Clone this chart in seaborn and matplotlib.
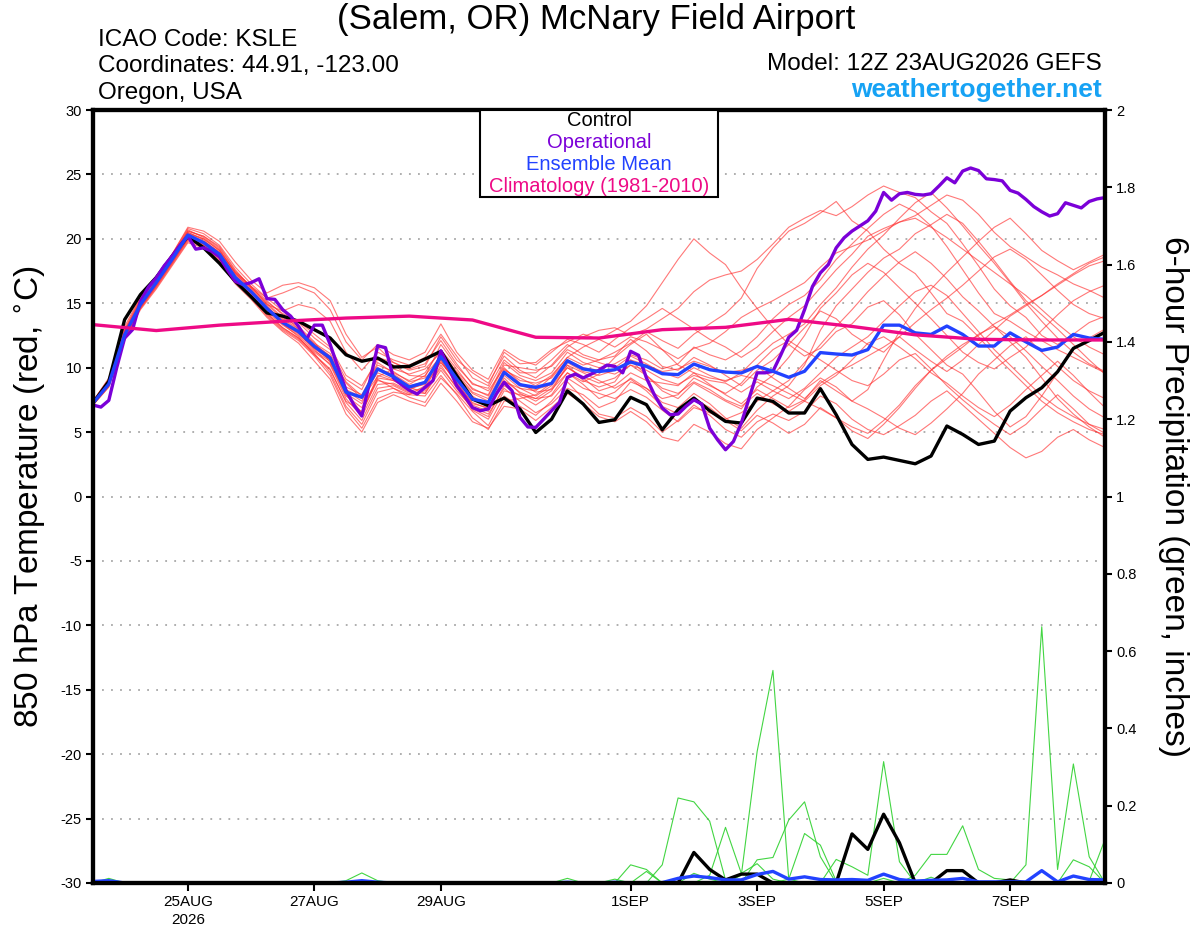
import numpy as np
import pandas as pd
import seaborn as sns
import matplotlib.pyplot as plt
from matplotlib.patches import Rectangle

sns.set_theme(style="ticks")
plt.rcParams["font.family"] = ["Liberation Sans", "DejaVu Sans"]
plt.rcParams["text.color"] = "black"
plt.rcParams["axes.labelcolor"] = "black"
plt.rcParams["xtick.color"] = "black"
plt.rcParams["ytick.color"] = "black"
plt.rcParams["axes.unicode_minus"] = False

"""
GEFS meteogram for KSLE, run 12Z 23AUG2026 (384 h)
"""
# Time axes: ensemble every 6 h, operational every 3 h, climatology daily
times = pd.date_range("2026-08-23 12:00", periods=65, freq="6h")
times_oper = pd.date_range("2026-08-23 12:00", periods=129, freq="3h")
times_clim = pd.date_range("2026-08-23 12:00", periods=17, freq="D")

# 850 hPa temperature (C)
control_t = [7.25, 8.94, 13.73, 15.67, 17.0, 18.65, 20.2, 19.3, 18.1, 16.7,
             15.5, 14.25, 14.0, 13.6, 12.95, 12.3, 11.0, 10.5, 10.75, 10.05,
             10.1, 10.67, 11.27, 9.38, 7.56, 7.05, 7.64, 6.79, 4.97, 6.0,
             8.2, 7.18, 5.75, 5.96, 7.7, 7.13, 5.18, 6.74, 7.64, 6.66,
             5.83, 5.7, 7.64, 7.38, 6.48, 6.48, 8.37, 6.35, 4.04, 2.88,
             3.06, 2.8, 2.54, 3.14, 5.47, 4.82, 4.04, 4.3, 6.63, 7.67,
             8.44, 9.68, 11.5, 12.1, 12.76]
mean_t = [7.25, 8.73, 12.56, 14.9, 16.6, 18.4, 20.3, 19.7, 18.8, 17.0,
          15.9, 14.6, 13.5, 12.8, 11.65, 10.75, 8.1, 7.7, 9.9, 9.3,
          8.5, 8.86, 10.85, 9.12, 7.56, 7.3, 9.64, 8.68, 8.47, 8.78,
          10.54, 9.9, 9.7, 9.84, 10.44, 10.1, 9.53, 9.46, 10.28, 9.84,
          9.66, 9.59, 10.1, 9.72, 9.25, 9.72, 11.17, 11.06, 10.98, 11.4,
          13.3, 13.3, 12.7, 12.58, 13.23, 12.58, 11.68, 11.68, 12.7, 12.0,
          11.34, 11.6, 12.58, 12.3, 12.2]
oper_t = [7.1, 6.94, 7.46, 10.0, 12.3, 12.95, 15.15, 16.24, 16.97, 17.9,
          18.65, 19.5, 20.2, 19.2, 19.3, 19.04, 18.6, 17.6, 16.7, 16.45,
          16.6, 16.9, 15.36, 15.3, 14.5, 14.0, 13.2, 12.2, 13.3, 13.3,
          11.8, 10.0, 8.25, 7.1, 6.25, 8.9, 11.7, 11.55, 9.2, 8.7,
          8.25, 7.95, 8.47, 9.0, 11.3, 10.0, 8.6, 7.8, 6.9, 6.66,
          6.8, 7.95, 8.86, 8.2, 6.14, 5.4, 5.36, 6.0, 6.66, 7.3,
          9.25, 9.5, 9.2, 9.5, 9.8, 10.2, 10.1, 9.6, 11.27, 10.96,
          9.2, 7.9, 6.87, 6.35, 6.4, 7.0, 7.5, 7.18, 5.3, 4.4,
          3.63, 4.27, 5.7, 7.64, 9.6, 9.6, 9.72, 11.0, 12.36, 12.9,
          14.5, 16.3, 17.36, 18.0, 19.3, 20.08, 20.6, 21.0, 21.4, 22.15,
          23.6, 23.0, 23.5, 23.6, 23.45, 23.4, 23.5, 24.1, 24.74, 24.35,
          25.26, 25.5, 25.3, 24.66, 24.6, 24.5, 23.76, 23.55, 23.06, 22.5,
          22.1, 21.77, 21.95, 22.8, 22.6, 22.4, 22.9, 23.1, 23.2]
clim_t = [13.34, 12.88, 13.3, 13.6, 13.85, 14.0, 13.7, 12.36, 12.3, 12.95,
          13.13, 13.75, 13.2, 12.55, 12.2, 12.15, 12.15]

member_t = [
    [7.3, 8.9, 12.8, 15.2, 16.9, 18.6, 20.6, 20.2, 19.4, 17.6,
     16.2, 15.0, 13.9, 13.2, 12.0, 10.4, 8.0, 6.5, 9.4, 9.0,
     8.3, 8.8, 11.0, 9.4, 8.0, 7.4, 9.8, 9.2, 8.6, 9.4,
     10.8, 11.6, 12.2, 12.9, 13.6, 14.8, 16.6, 18.4, 20.0, 18.9,
     18.0, 16.2, 14.6, 13.1, 11.8, 10.9, 11.5, 12.8, 13.4, 14.7,
     15.2, 14.1, 12.6, 11.4, 10.2, 9.5, 8.1, 6.6, 5.4, 6.2,
     7.8, 9.6, 11.4, 12.3, 13.0],
    [7.2, 8.6, 12.4, 14.7, 16.4, 18.3, 20.1, 19.8, 19.0, 17.4,
     16.3, 15.2, 14.1, 13.0, 11.8, 10.9, 8.5, 7.9, 10.2, 9.7,
     8.9, 9.2, 10.4, 9.0, 7.8, 7.0, 8.9, 8.4, 8.2, 9.3,
     10.8, 10.2, 10.6, 11.2, 11.9, 12.8, 12.1, 11.5, 12.6, 13.4,
     14.2, 15.4, 17.7, 19.3, 20.6, 21.2, 22.0, 22.9, 21.4, 20.6,
     19.2, 18.1, 17.3, 15.8, 14.2, 13.6, 12.4, 11.0, 9.8, 8.6,
     7.4, 6.5, 5.8, 5.2, 4.8],
    [7.4, 9.2, 13.2, 15.5, 17.1, 18.8, 20.9, 20.6, 19.8, 18.2,
     16.8, 15.8, 16.4, 16.6, 16.2, 15.2, 12.6, 10.8, 11.6, 10.4,
     9.8, 10.1, 12.4, 10.6, 9.6, 8.8, 10.9, 9.8, 9.2, 10.2,
     11.6, 12.4, 12.9, 13.1, 12.5, 13.0, 13.8, 14.6, 15.9, 16.8,
     17.2, 17.5, 18.4, 19.6, 20.9, 21.6, 22.2, 21.8, 22.5, 23.4,
     24.1, 23.6, 23.2, 22.1, 21.2, 19.6, 17.9, 16.1, 14.8, 13.9,
     12.5, 11.8, 12.6, 13.5, 14.0],
    [7.1, 8.5, 12.2, 14.6, 16.2, 18.0, 19.8, 19.4, 18.3, 16.7,
     15.6, 14.2, 13.1, 12.3, 11.1, 9.6, 7.0, 5.6, 8.1, 8.4,
     7.7, 7.3, 9.2, 8.0, 6.6, 5.5, 7.8, 7.0, 6.3, 7.4,
     8.9, 7.6, 6.4, 6.1, 6.9, 6.2, 5.0, 5.9, 7.1, 6.3,
     5.2, 4.6, 5.8, 6.4, 5.9, 6.6, 7.8, 7.2, 6.0, 5.2,
     4.8, 5.5, 6.3, 7.4, 8.2, 7.1, 6.0, 4.9, 3.8, 3.0,
     3.5, 4.6, 5.2, 4.4, 3.8],
    [7.3, 8.8, 12.6, 15.0, 16.7, 18.5, 20.5, 19.9, 18.9, 17.1,
     16.0, 14.8, 13.5, 12.7, 11.4, 10.2, 7.6, 6.2, 8.7, 8.8,
     8.2, 8.4, 10.6, 8.7, 7.1, 6.6, 9.2, 8.0, 7.4, 8.2,
     10.2, 9.0, 8.5, 8.9, 10.6, 9.4, 8.2, 7.6, 8.8, 8.1,
     7.4, 6.8, 8.5, 9.4, 10.8, 12.5, 14.6, 15.8, 17.2, 18.1,
     17.4, 16.2, 15.0, 13.8, 12.5, 11.2, 10.4, 9.9, 10.8, 11.6,
     12.9, 14.1, 15.2, 15.9, 16.4],
    [7.2, 8.7, 12.5, 14.8, 16.5, 18.2, 20.0, 19.6, 18.6, 16.9,
     15.7, 14.3, 13.3, 12.5, 11.3, 10.5, 8.3, 7.7, 10.4, 9.6,
     9.0, 9.6, 11.4, 9.9, 8.3, 7.9, 10.4, 9.4, 9.0, 9.6,
     11.2, 10.4, 10.0, 10.3, 11.0, 10.6, 9.9, 10.3, 11.6, 11.0,
     10.6, 11.3, 12.4, 13.8, 14.9, 15.6, 16.8, 18.4, 19.6, 20.8,
     21.9, 22.7, 22.1, 21.0, 19.4, 17.6, 15.8, 14.2, 13.6, 12.8,
     12.1, 11.4, 10.8, 10.2, 9.6],
    [7.4, 9.0, 12.9, 15.3, 17.0, 18.7, 20.7, 20.1, 19.2, 17.3,
     16.2, 15.1, 14.2, 13.6, 12.6, 11.6, 9.4, 8.6, 10.6, 10.2,
     9.4, 9.3, 11.8, 10.1, 8.8, 8.2, 10.0, 8.8, 8.1, 8.3,
     9.6, 8.7, 7.6, 8.1, 9.2, 8.4, 7.3, 6.9, 8.0, 7.2,
     6.1, 5.3, 6.7, 7.8, 8.6, 10.2, 12.9, 14.8, 16.1, 17.4,
     18.5, 19.2, 20.4, 21.1, 21.9, 21.2, 19.8, 18.3, 16.7, 15.2,
     14.1, 13.0, 11.8, 10.6, 9.5],
    [7.1, 8.6, 12.3, 14.6, 16.3, 18.1, 19.9, 19.5, 18.5, 16.8,
     15.4, 14.0, 12.9, 12.1, 10.9, 9.4, 6.8, 5.3, 7.6, 8.1,
     7.9, 7.8, 9.4, 7.9, 6.1, 5.2, 7.4, 7.6, 7.9, 8.8,
     10.2, 9.6, 9.0, 8.4, 9.1, 8.2, 7.0, 6.4, 7.6, 6.9,
     5.9, 5.1, 6.3, 5.7, 4.9, 5.6, 6.9, 6.1, 5.1, 4.5,
     5.6, 6.9, 8.4, 9.8, 10.9, 11.8, 12.5, 13.4, 14.1, 14.9,
     15.6, 16.4, 17.2, 17.9, 18.3],
    [7.3, 8.8, 12.7, 15.1, 16.8, 18.5, 20.4, 20.0, 19.1, 17.3,
     16.1, 14.7, 13.7, 12.9, 11.8, 10.9, 8.9, 7.8, 9.6, 9.1,
     8.5, 8.0, 10.2, 8.4, 6.8, 6.2, 8.6, 7.8, 7.1, 7.9,
     9.6, 8.9, 9.5, 10.8, 11.8, 12.6, 11.4, 10.2, 9.6, 8.7,
     7.9, 7.2, 8.3, 7.6, 6.9, 7.5, 9.0, 8.2, 7.4, 8.3,
     10.6, 12.8, 14.6, 16.1, 17.4, 18.6, 19.8, 20.9, 21.6, 20.4,
     19.1, 18.3, 17.6, 18.2, 18.8],
    [7.2, 8.7, 12.5, 14.9, 16.6, 18.4, 20.2, 19.7, 18.8, 17.0,
     15.9, 14.5, 13.4, 12.6, 11.5, 10.6, 8.0, 7.2, 9.8, 9.5,
     8.7, 9.4, 10.9, 9.6, 8.1, 7.6, 9.9, 9.0, 8.8, 9.2,
     10.6, 10.0, 9.8, 9.5, 10.2, 9.8, 9.1, 8.7, 9.4, 9.0,
     8.8, 8.1, 8.9, 8.2, 7.6, 8.4, 9.6, 10.8, 11.6, 12.4,
     13.6, 14.8, 15.9, 16.4, 15.6, 14.2, 12.8, 11.4, 10.2, 9.0,
     7.8, 6.9, 6.2, 5.6, 5.2],
    [7.3, 8.9, 12.7, 15.0, 16.7, 18.5, 20.4, 19.8, 18.9, 17.2,
     16.0, 14.9, 14.4, 14.9, 14.6, 13.6, 11.2, 9.8, 11.2, 10.6,
     10.2, 10.8, 12.6, 10.9, 9.2, 8.6, 11.2, 10.3, 10.4, 11.4,
     12.0, 12.6, 12.2, 11.6, 12.4, 12.0, 11.4, 10.7, 11.5, 11.9,
     12.8, 13.9, 14.6, 15.2, 15.9, 16.6, 17.8, 18.9, 19.4, 19.9,
     20.6, 21.3, 21.8, 22.6, 23.4, 23.0, 21.9, 20.5, 19.4, 18.6,
     17.8, 17.2, 16.5, 16.0, 15.4],
    [7.2, 8.6, 12.4, 14.8, 16.5, 18.3, 20.1, 19.6, 18.7, 16.9,
     15.8, 14.5, 13.4, 12.4, 11.0, 9.8, 7.4, 6.6, 9.0, 8.7,
     8.1, 8.0, 9.8, 8.2, 6.9, 6.4, 8.4, 7.4, 6.5, 7.2,
     8.4, 7.9, 6.9, 7.4, 8.9, 8.4, 7.6, 7.9, 9.2, 8.6,
     8.0, 8.8, 10.2, 11.4, 12.1, 11.3, 10.6, 9.8, 9.0, 8.6,
     9.5, 10.6, 11.1, 9.9, 8.6, 7.5, 6.5, 5.6, 4.8, 5.6,
     6.8, 7.9, 6.8, 5.6, 4.9],
    [7.4, 9.1, 13.0, 15.4, 17.0, 18.8, 20.8, 20.4, 19.5, 17.8,
     16.5, 15.4, 14.4, 13.5, 12.3, 11.4, 9.1, 8.3, 10.8, 10.4,
     9.9, 10.3, 12.1, 10.3, 8.7, 8.4, 10.6, 9.6, 9.6, 10.6,
     11.8, 11.0, 10.6, 10.9, 12.2, 11.3, 10.1, 9.8, 10.8, 10.2,
     9.4, 8.6, 9.8, 10.6, 11.8, 13.1, 14.4, 13.8, 12.6, 11.8,
     11.2, 12.4, 13.5, 14.5, 15.4, 16.4, 17.5, 18.6, 19.2, 18.4,
     17.2, 16.0, 14.9, 14.2, 13.8],
    [7.1, 8.5, 12.1, 14.5, 16.1, 17.9, 19.7, 19.3, 18.2, 16.5,
     15.3, 13.9, 12.8, 11.9, 10.5, 9.1, 6.4, 5.0, 7.3, 7.9,
     7.4, 7.0, 8.8, 7.4, 5.8, 5.3, 7.0, 6.8, 5.9, 6.9,
     8.0, 7.2, 6.2, 5.8, 6.6, 5.8, 4.6, 4.3, 5.6, 5.0,
     4.1, 3.7, 5.2, 6.1, 7.0, 8.3, 9.2, 8.5, 7.4, 6.8,
     6.1, 5.3, 4.8, 5.7, 6.8, 8.0, 9.5, 10.6, 11.7, 12.4,
     11.2, 10.1, 9.0, 8.2, 7.6],
    [7.3, 8.8, 12.6, 15.0, 16.8, 18.6, 20.5, 20.0, 19.1, 17.4,
     16.3, 15.4, 15.8, 16.3, 15.8, 14.5, 12.0, 10.6, 11.8, 11.0,
     10.6, 11.2, 13.4, 11.2, 9.8, 9.1, 11.4, 10.6, 10.2, 11.2,
     12.2, 11.8, 11.2, 12.2, 13.1, 13.8, 14.6, 13.8, 13.0, 12.2,
     11.6, 10.8, 11.6, 12.8, 13.9, 14.8, 16.2, 17.6, 18.8, 20.2,
     20.8, 21.3, 21.6, 20.9, 20.1, 19.2, 18.3, 17.4, 16.5, 15.6,
     14.5, 13.4, 12.4, 11.6, 11.0],
    [7.2, 8.7, 12.4, 14.7, 16.4, 18.2, 20.0, 19.5, 18.6, 16.8,
     15.6, 14.2, 13.1, 12.3, 11.2, 10.3, 7.8, 6.9, 9.1, 8.4,
     7.9, 8.6, 10.4, 8.9, 7.2, 6.9, 9.0, 8.1, 7.6, 8.4,
     10.0, 9.3, 8.8, 9.2, 10.2, 9.4, 8.4, 8.0, 8.9, 8.3,
     7.5, 7.0, 8.0, 7.2, 6.6, 7.4, 8.6, 9.4, 10.6, 11.9,
     12.4, 11.6, 10.7, 9.6, 8.8, 7.8, 6.9, 6.2, 7.1, 8.3,
     9.4, 10.5, 9.4, 8.1, 6.9],
    [7.4, 9.0, 12.8, 15.2, 16.9, 18.7, 20.6, 20.2, 19.3, 17.5,
     16.3, 14.9, 13.8, 13.0, 11.9, 11.1, 8.8, 7.6, 9.3, 9.9,
     9.5, 9.9, 11.2, 9.7, 8.4, 7.8, 10.2, 10.0, 9.8, 10.1,
     11.4, 10.8, 10.4, 10.0, 10.9, 10.3, 9.6, 9.2, 10.0, 9.4,
     8.9, 9.6, 10.8, 11.9, 12.6, 13.4, 14.9, 16.2, 17.8, 19.2,
     20.3, 21.6, 22.8, 23.6, 22.4, 21.0, 19.5, 18.1, 16.6, 15.0,
     13.6, 12.3, 11.2, 10.3, 9.7],
    [7.2, 8.6, 12.3, 14.7, 16.3, 18.1, 20.0, 19.4, 18.4, 16.7,
     15.5, 14.1, 13.0, 12.2, 11.0, 9.9, 7.3, 5.9, 8.4, 8.6,
     8.0, 8.2, 10.0, 8.5, 6.7, 6.0, 8.2, 7.9, 7.6, 7.8,
     9.2, 8.4, 8.0, 7.6, 8.3, 7.7, 6.7, 5.8, 6.9, 6.5,
     6.0, 6.5, 7.4, 8.2, 9.0, 10.4, 11.8, 13.2, 14.5, 15.9,
     17.1, 18.2, 19.0, 18.1, 16.9, 15.5, 14.4, 13.2, 12.0, 10.8,
     9.2, 7.6, 6.4, 5.4, 4.6],
    [7.3, 8.8, 12.6, 14.9, 16.6, 18.4, 20.3, 19.7, 18.8, 17.0,
     15.8, 14.6, 13.5, 12.8, 11.7, 10.7, 8.2, 7.4, 10.0, 9.4,
     8.6, 8.9, 11.1, 9.2, 7.6, 7.2, 9.6, 8.6, 8.3, 8.7,
     10.4, 9.7, 9.4, 9.8, 10.6, 10.2, 9.7, 9.9, 10.5, 10.1,
     9.6, 9.8, 10.1, 9.2, 8.4, 7.6, 8.8, 9.6, 10.2, 10.9,
     11.6, 12.4, 11.4, 10.5, 9.7, 10.6, 11.8, 12.9, 14.0, 14.8,
     15.6, 16.5, 17.3, 18.1, 18.6],
    [7.2, 8.7, 12.5, 14.9, 16.5, 18.3, 20.2, 19.7, 18.7, 16.9,
     15.8, 14.5, 13.4, 12.7, 11.5, 10.6, 7.9, 6.4, 9.2, 9.0,
     8.4, 8.7, 10.6, 8.8, 7.3, 6.8, 9.4, 8.4, 7.8, 8.6,
     10.0, 9.2, 8.2, 8.6, 9.6, 9.0, 8.8, 8.6, 9.6, 9.2,
     9.0, 9.4, 9.1, 8.6, 8.0, 7.4, 6.8, 6.1, 5.4, 4.9,
     5.9, 7.1, 8.6, 9.8, 10.7, 11.6, 12.6, 13.2, 12.4, 11.3,
     10.1, 9.0, 7.8, 6.8, 6.1],
]

# 6-hour precipitation (inches)
control_p = [0, 0, 0, 0, 0, 0, 0, 0, 0, 0,
             0, 0, 0, 0, 0, 0, 0, 0, 0, 0,
             0, 0, 0, 0, 0, 0, 0, 0, 0, 0,
             0, 0, 0, 0, 0, 0, 0, 0, 0.079, 0.035,
             0.008, 0.023, 0.023, 0, 0, 0, 0, 0, 0.127, 0.087,
             0.178, 0.104, 0, 0, 0.032, 0.032, 0, 0, 0.008, 0,
             0, 0, 0, 0, 0]
mean_p = [0.004, 0.006, 0, 0, 0, 0, 0, 0, 0, 0,
          0, 0, 0, 0, 0, 0, 0.002, 0.006, 0.002, 0,
          0, 0, 0, 0, 0, 0, 0, 0, 0, 0,
          0.002, 0, 0, 0.002, 0, 0.001, 0.001, 0.012, 0.018, 0.014,
          0.008, 0.008, 0.022, 0.03, 0.01, 0.016, 0.009, 0.008, 0.009, 0.007,
          0.023, 0.009, 0.005, 0.007, 0.008, 0.012, 0.003, 0.003, 0.003, 0.003,
          0.032, 0.003, 0.018, 0.009, 0.008]
member_p = [
    [0, 0, 0, 0, 0, 0, 0, 0, 0, 0,
     0, 0, 0, 0, 0, 0, 0, 0, 0, 0,
     0, 0, 0, 0, 0, 0, 0, 0, 0, 0,
     0, 0, 0, 0, 0, 0, 0, 0, 0, 0,
     0, 0.02, 0.34, 0.55, 0.01, 0, 0, 0, 0, 0,
     0, 0, 0, 0, 0, 0, 0, 0, 0, 0,
     0, 0, 0, 0, 0],
    [0, 0.012, 0, 0, 0, 0, 0, 0, 0, 0,
     0, 0, 0, 0, 0, 0, 0, 0, 0, 0,
     0, 0, 0, 0, 0, 0, 0, 0, 0, 0,
     0, 0, 0, 0, 0.047, 0.035, 0, 0, 0, 0,
     0, 0, 0, 0, 0, 0, 0, 0, 0, 0,
     0, 0, 0, 0, 0, 0, 0, 0, 0, 0,
     0, 0, 0, 0, 0],
    [0, 0, 0, 0, 0, 0, 0, 0, 0, 0,
     0, 0, 0, 0, 0, 0, 0, 0, 0, 0,
     0, 0, 0, 0, 0, 0, 0, 0, 0, 0,
     0, 0, 0, 0, 0, 0, 0.047, 0.22, 0.21, 0.16,
     0.008, 0, 0, 0, 0, 0, 0, 0, 0, 0,
     0, 0, 0, 0, 0, 0, 0, 0, 0, 0,
     0, 0, 0, 0, 0],
    [0, 0, 0, 0, 0, 0, 0, 0, 0, 0,
     0, 0, 0, 0, 0, 0, 0.006, 0.026, 0.006, 0,
     0, 0, 0, 0, 0, 0, 0, 0, 0, 0,
     0, 0, 0, 0, 0, 0.03, 0, 0, 0, 0.02,
     0.144, 0.025, 0.05, 0.01, 0, 0, 0, 0, 0, 0,
     0, 0, 0, 0, 0, 0, 0, 0, 0, 0,
     0, 0, 0, 0, 0],
    [0, 0, 0, 0, 0, 0, 0, 0, 0, 0,
     0, 0, 0, 0, 0, 0, 0, 0, 0, 0,
     0, 0, 0, 0, 0, 0, 0, 0, 0, 0,
     0, 0, 0, 0, 0, 0, 0, 0, 0, 0,
     0, 0, 0.06, 0.066, 0.163, 0.21, 0.068, 0, 0, 0,
     0, 0, 0, 0, 0, 0, 0, 0, 0, 0,
     0, 0, 0, 0, 0],
    [0, 0, 0, 0, 0, 0, 0, 0, 0, 0,
     0, 0, 0, 0, 0, 0, 0, 0, 0, 0,
     0, 0, 0, 0, 0, 0, 0, 0, 0, 0,
     0.012, 0, 0, 0.01, 0, 0, 0, 0, 0, 0,
     0, 0, 0, 0, 0.01, 0.128, 0.098, 0.005, 0, 0,
     0, 0, 0, 0, 0, 0, 0, 0, 0, 0,
     0, 0, 0, 0, 0],
    [0, 0, 0, 0, 0, 0, 0, 0, 0, 0,
     0, 0, 0, 0, 0, 0, 0, 0, 0, 0,
     0, 0, 0, 0, 0, 0, 0, 0, 0, 0,
     0, 0, 0, 0, 0, 0, 0, 0, 0, 0,
     0, 0, 0, 0, 0, 0, 0, 0.061, 0.042, 0.02,
     0.314, 0.055, 0, 0, 0, 0, 0, 0, 0, 0,
     0, 0, 0, 0, 0],
    [0, 0, 0, 0, 0, 0, 0, 0, 0, 0,
     0, 0, 0, 0, 0, 0, 0, 0, 0, 0,
     0, 0, 0, 0, 0, 0, 0, 0, 0, 0,
     0, 0, 0, 0, 0, 0, 0, 0, 0, 0,
     0, 0, 0, 0, 0, 0, 0, 0, 0, 0,
     0, 0, 0.02, 0.074, 0.074, 0.148, 0.035, 0.012, 0.008, 0,
     0, 0, 0, 0, 0],
    [0, 0, 0, 0, 0, 0, 0, 0, 0, 0,
     0, 0, 0, 0, 0, 0, 0, 0, 0, 0,
     0, 0, 0, 0, 0, 0, 0, 0, 0, 0,
     0, 0, 0, 0, 0, 0, 0, 0, 0, 0,
     0, 0, 0, 0, 0, 0, 0, 0, 0, 0,
     0, 0, 0, 0, 0, 0, 0, 0, 0, 0.047,
     0.663, 0.035, 0.308, 0.068, 0],
    [0, 0, 0, 0, 0, 0, 0, 0, 0, 0,
     0, 0, 0, 0, 0, 0, 0, 0, 0, 0,
     0, 0, 0, 0, 0, 0, 0, 0, 0, 0,
     0, 0, 0, 0, 0, 0, 0, 0, 0, 0,
     0, 0, 0, 0, 0, 0, 0, 0, 0, 0,
     0, 0, 0, 0, 0, 0, 0, 0, 0, 0,
     0, 0, 0, 0.005, 0.113],
    [0, 0, 0, 0, 0, 0, 0, 0, 0, 0,
     0, 0, 0, 0, 0, 0, 0, 0, 0, 0,
     0, 0, 0, 0, 0, 0, 0, 0, 0, 0,
     0, 0, 0, 0, 0, 0, 0, 0, 0.025, 0.01,
     0, 0, 0, 0, 0, 0, 0, 0, 0, 0,
     0.012, 0, 0, 0.015, 0, 0, 0, 0, 0, 0,
     0, 0, 0.06, 0.042, 0],
]

tick_days = ["2026-08-25", "2026-08-27", "2026-08-29", "2026-09-01",
             "2026-09-03", "2026-09-05", "2026-09-07"]
tick_labels = ["25AUG\n2026", "27AUG", "29AUG", "1SEP", "3SEP", "5SEP", "7SEP"]

# Long tables for the ensemble members
df_mem_t = pd.DataFrame({"time": np.tile(times, len(member_t)),
                         "temp": np.concatenate(member_t),
                         "member": np.repeat(np.arange(len(member_t)), len(times))})
df_mem_p = pd.DataFrame({"time": np.tile(times, len(member_p)),
                         "precip": np.concatenate(member_p),
                         "member": np.repeat(np.arange(len(member_p)), len(times))})

# Create the plot
fig = plt.figure(figsize=(12, 9.27), dpi=100)
ax = fig.add_axes([93 / 1200, 44 / 927, 1012 / 1200, 773 / 927])
ax2 = ax.twinx()

sns.lineplot(data=df_mem_t, x="time", y="temp", units="member", estimator=None,
             color="#ff3030", lw=0.8, alpha=0.65, ax=ax)
sns.lineplot(x=times, y=control_t, color="black", lw=2.4, ax=ax)
sns.lineplot(x=times_oper, y=oper_t, color="#7b00d8", lw=2.4, ax=ax)
sns.lineplot(x=times, y=mean_t, color="#2242ff", lw=2.4, ax=ax)
sns.lineplot(x=times_clim, y=clim_t, color="#ee0a86", lw=2.4, ax=ax)

sns.lineplot(data=df_mem_p, x="time", y="precip", units="member", estimator=None,
             color="#2ed12e", lw=0.8, alpha=0.9, ax=ax2)
sns.lineplot(x=times, y=control_p, color="black", lw=2.4, ax=ax2)
sns.lineplot(x=times, y=mean_p, color="#2242ff", lw=2.4, ax=ax2)

ax.set_xlim(times[0], times[-1])
ax.set_ylim(-30, 30)
ax2.set_ylim(0, 2)

ax.set_yticks(range(-30, 31, 5))
ax.set_xticks(pd.to_datetime(tick_days))
ax.set_xticklabels(tick_labels, fontsize=11, linespacing=1.3)
ax2.set_yticks(np.arange(0, 2.01, 0.2))
ax2.set_yticklabels([f"{v:g}" for v in np.round(np.arange(0, 2.01, 0.2), 1)])
ax.tick_params(axis="y", labelsize=10.5, length=5, width=1.5, pad=3, colors="black")
ax.tick_params(axis="x", length=6, width=1.5, pad=3, colors="black")
ax2.tick_params(axis="y", labelsize=10.5, length=5, width=1.5, pad=3, colors="black")

ax.yaxis.grid(True, color="#a8a8a8", linestyle=(0, (1, 4)), lw=1.3)
ax.xaxis.grid(False)
ax2.grid(False)
ax.set_axisbelow(True)

for a in (ax, ax2):
    for s in a.spines.values():
        s.set_linewidth(3)
        s.set_color("black")

ax.set_xlabel(None)
ax.set_ylabel("850 hPa Temperature (red, $^{\\circ}$C)", fontsize=24, va="center")
ax.yaxis.set_label_coords(-0.062, 0.5)
ax2.set_ylabel("6-hour Precipitation (green, inches)", fontsize=24, rotation=270, va="center")
ax2.yaxis.set_label_coords(1.068, 0.5)

# Header text
fig.text(596 / 1200, 1 - 19 / 927, "(Salem, OR) McNary Field Airport",
         ha="center", va="center", fontsize=25)
fig.text(98 / 1200, 1 - 40 / 927, "ICAO Code: KSLE", ha="left", va="center", fontsize=17.5)
fig.text(98 / 1200, 1 - 66 / 927, "Coordinates: 44.91, -123.00", ha="left", va="center", fontsize=17.5)
fig.text(98 / 1200, 1 - 93 / 927, "Oregon, USA", ha="left", va="center", fontsize=17.5)
fig.text(1102 / 1200, 1 - 64 / 927, "Model: 12Z 23AUG2026 GEFS", ha="right", va="center", fontsize=17.5)
fig.text(1102 / 1200, 1 - 90 / 927, "weathertogether.net", ha="right", va="center",
         fontsize=19, fontweight="bold", color="#16a2f4")

# Legend box
fig.add_artist(Rectangle((480 / 1200, 1 - 197 / 927), 238 / 1200, 87 / 927,
                         transform=fig.transFigure, facecolor="white",
                         edgecolor="black", lw=1.5, zorder=5))
legend_items = [("Control", "black"), ("Operational", "#7b00d8"),
                ("Ensemble Mean", "#2242ff"), ("Climatology (1981-2010)", "#ee0a86")]
for k, (txt, col) in enumerate(legend_items):
    fig.text(599 / 1200, 1 - (121 + 22 * k) / 927, txt, ha="center", va="center",
             fontsize=14.5, color=col, zorder=6)

plt.savefig("out.png", dpi=100)
plt.close()
